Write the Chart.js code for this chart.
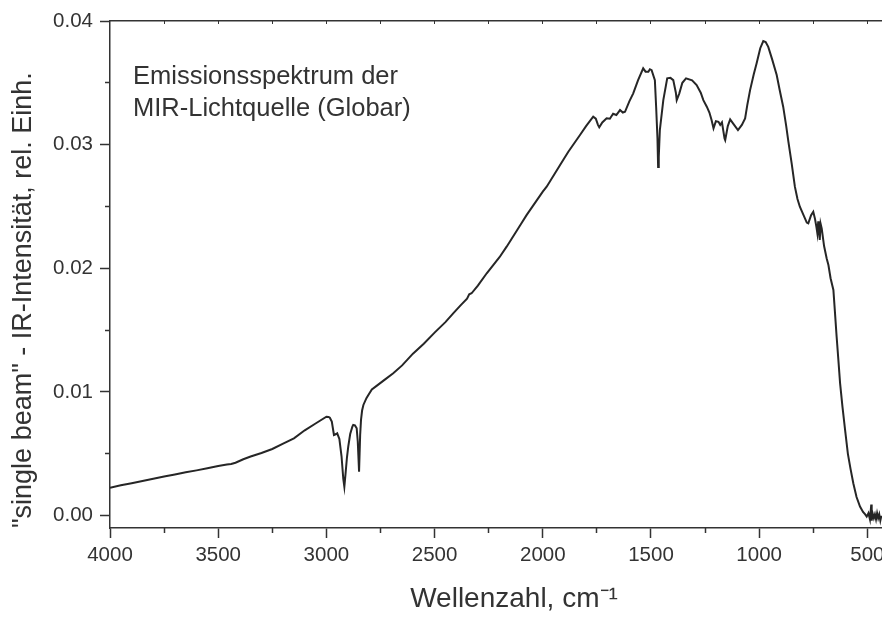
<!DOCTYPE html>
<html>
<head>
<meta charset="utf-8">
<script src="https://cdn.jsdelivr.net/npm/chart.js@4"></script>
<style>
  html, body { margin: 0; padding: 0; background: #fff; overflow: hidden; }
  /* the source figure is cut at the right edge, so the canvas runs a bit past the window */
  #wrap { width: 882px; height: 617px; overflow: hidden; }
</style>
</head>
<body>
<div id="wrap"><canvas id="chart" width="918" height="617"></canvas></div>
<script>
// Wellenzahl, cm-1
var wavenumbers = [
  4000, 3950, 3900, 3850, 3800, 3750, 3700, 3650, 3600, 3550,
  3500, 3460, 3440, 3420, 3384, 3350, 3300, 3250, 3200, 3150,
  3100, 3050, 3000, 2990, 2984, 2975, 2965, 2955, 2950, 2940,
  2930, 2922, 2917, 2912, 2905, 2899, 2890, 2880, 2876, 2868,
  2860, 2855, 2849, 2844, 2840, 2835, 2829, 2815, 2806, 2790,
  2768, 2730, 2691, 2650, 2600, 2550, 2500, 2450, 2414, 2380,
  2350, 2340, 2329, 2300, 2259, 2200, 2167, 2100, 2075, 2000,
  1982, 1920, 1882, 1828, 1800, 1767, 1755, 1745, 1739, 1725,
  1705, 1690, 1675, 1660, 1643, 1630, 1620, 1600, 1582, 1560,
  1536, 1525, 1512, 1505, 1497, 1482, 1476, 1470, 1467, 1464,
  1459, 1443, 1425, 1410, 1397, 1385, 1381, 1369, 1355, 1338,
  1310, 1289, 1270, 1258, 1242, 1230, 1220, 1211, 1200, 1188,
  1180, 1172, 1160, 1157, 1145, 1134, 1120, 1098, 1080, 1065,
  1055, 1042, 1025, 1012, 995, 981, 970, 958, 940, 919,
  905, 889, 875, 865, 850, 835, 823, 812, 795, 780,
  773, 760, 750, 742, 735, 731, 727, 725, 720, 716,
  711, 700, 688, 680, 670, 657, 650, 642, 634, 626,
  615, 603, 590, 578, 565, 550, 534, 520, 510, 503,
  495, 488, 482, 480, 476, 470, 465, 460, 455, 450,
  445, 440, 435
];

// "single beam" IR-Intensitaet, rel. Einh.
var intensity = [
  0.00225, 0.00245, 0.00262, 0.00280, 0.00298, 0.00316, 0.00333, 0.00350, 0.00366, 0.00383,
  0.00402, 0.00414, 0.00418, 0.00428, 0.00456, 0.00478, 0.00507, 0.00539, 0.00582, 0.00625,
  0.00690, 0.00745, 0.00800, 0.00798, 0.00792, 0.00760, 0.00652, 0.00660, 0.00666, 0.00620,
  0.00480, 0.00300, 0.00234, 0.00330, 0.00470, 0.00558, 0.00660, 0.00720, 0.00733, 0.00730,
  0.00707, 0.00600, 0.00356, 0.00650, 0.00774, 0.00850, 0.00895, 0.00950, 0.00976, 0.01020,
  0.01049, 0.01100, 0.01151, 0.01215, 0.01310, 0.01390, 0.01480, 0.01565, 0.01636, 0.01700,
  0.01755, 0.01790, 0.01798, 0.01860, 0.01960, 0.02090, 0.02175, 0.02360, 0.02430, 0.02620,
  0.02660, 0.02835, 0.02943, 0.03078, 0.03150, 0.03226, 0.03210, 0.03160, 0.03140, 0.03180,
  0.03213, 0.03210, 0.03250, 0.03240, 0.03280, 0.03260, 0.03266, 0.03350, 0.03415, 0.03520,
  0.03617, 0.03590, 0.03590, 0.03610, 0.03603, 0.03522, 0.03300, 0.03050, 0.02820, 0.02900,
  0.03118, 0.03360, 0.03536, 0.03540, 0.03522, 0.03420, 0.03360, 0.03415, 0.03500, 0.03536,
  0.03520, 0.03482, 0.03420, 0.03360, 0.03307, 0.03260, 0.03200, 0.03132, 0.03190, 0.03185,
  0.03160, 0.03180, 0.03050, 0.03037, 0.03150, 0.03204, 0.03170, 0.03118, 0.03160, 0.03213,
  0.03320, 0.03441, 0.03570, 0.03657, 0.03780, 0.03838, 0.03830, 0.03791, 0.03690, 0.03563,
  0.03440, 0.03307, 0.03150, 0.03024, 0.02850, 0.02660, 0.02560, 0.02498, 0.02430, 0.02370,
  0.02364, 0.02430, 0.02458, 0.02400, 0.02330, 0.02283, 0.02380, 0.02336, 0.02230, 0.02360,
  0.02323, 0.02180, 0.02080, 0.02027, 0.01920, 0.01825, 0.01650, 0.01447, 0.01260, 0.01070,
  0.00880, 0.00693, 0.00500, 0.00380, 0.00262, 0.00150, 0.00073, 0.00030, 0.00010, -0.00008,
  0.00020, -0.00030, 0.00090, -0.00040, 0.00020, -0.00020, 0.00010, -0.00030, 0.00020, -0.00020,
  0.00010, -0.00040, 0.00000
];

var xMajorTicks = [4000, 3500, 3000, 2500, 2000, 1500, 1000, 500];
var xMinorTicks = [3750, 3250, 2750, 2250, 1750, 1250, 750];
var xTopTicks = [3750, 3500, 3250, 3000, 2750, 2500, 2250, 2000, 1750, 1500, 1250, 1000, 750, 500];
var yMajorTicks = [0, 0.01, 0.02, 0.03, 0.04];
var yMinorTicks = [0.005, 0.015, 0.025, 0.035];

var noteLines = ["Emissionsspektrum der", "MIR-Lichtquelle (Globar)"];

var xMin = 266, xMax = 4000;
var yMin = -0.001, yMax = 0.04;
var inkColor = "#333333";
var fontFamily = '"Liberation Sans", Arial, sans-serif';

function setTicks(values) {
  return function(scale) {
    scale.ticks = values.map(function(v) { return { value: v }; });
  };
}

var points = wavenumbers.map(function(w, i) {
  return { x: w, y: intensity[i] };
});

var notePlugin = {
  id: "note",
  afterDraw: function(chart) {
    var ctx = chart.ctx;
    ctx.save();
    ctx.font = "25.5px " + fontFamily;
    ctx.fillStyle = inkColor;
    ctx.textBaseline = "alphabetic";
    ctx.fillText(noteLines[0], 133, 84);
    ctx.fillText(noteLines[1], 133, 116);
    ctx.restore();
  }
};

var ctx = document.getElementById("chart").getContext("2d");

var chart = new Chart(ctx, {
  type: "line",
  data: {
    datasets: [{
      data: points,
      borderColor: "#262626",
      borderWidth: 2,
      pointRadius: 0,
      tension: 0,
      fill: false
    }]
  },
  options: {
    responsive: false,
    animation: false,
    devicePixelRatio: 1,
    layout: { padding: { top: 21, right: 0, left: 0, bottom: 0 } },
    plugins: {
      legend: { display: false },
      tooltip: { enabled: false }
    },
    scales: {
      x: {
        type: "linear",
        position: "bottom",
        reverse: true,
        min: xMin,
        max: xMax,
        weight: 1,
        afterBuildTicks: setTicks(xMajorTicks),
        afterFit: function(scale) {
          scale.height = 89;
          scale.paddingLeft = 0;
          scale.paddingRight = 0;
        },
        grid: { drawOnChartArea: false, tickLength: 10, color: inkColor, tickWidth: 1.5 },
        border: { color: inkColor, width: 1.5 },
        ticks: {
          color: inkColor,
          padding: 5,
          maxRotation: 0,
          autoSkip: false,
          font: { family: fontFamily, size: 20.5 },
          callback: function(v) { return String(v); }
        },
        title: {
          display: true,
          text: "Wellenzahl, cm\u207B\u00B9",
          color: inkColor,
          font: { family: fontFamily, size: 28 },
          padding: { top: 0, bottom: 1 }
        }
      },
      xMinor: {
        type: "linear",
        position: "bottom",
        reverse: true,
        min: xMin,
        max: xMax,
        weight: 0,
        afterBuildTicks: setTicks(xMinorTicks),
        afterFit: function(scale) { scale.height = 0; },
        grid: { drawOnChartArea: false, tickLength: 5, color: inkColor, tickWidth: 1.5 },
        border: { display: false },
        ticks: { display: false }
      },
      xTop: {
        type: "linear",
        position: "top",
        reverse: true,
        min: xMin,
        max: xMax,
        afterBuildTicks: setTicks(xTopTicks),
        afterFit: function(scale) { scale.height = 0; },
        grid: { drawOnChartArea: false, tickLength: -3, color: inkColor, tickWidth: 1 },
        border: { color: inkColor, width: 1.5 },
        ticks: { display: false }
      },
      y: {
        type: "linear",
        position: "left",
        min: yMin,
        max: yMax,
        weight: 1,
        afterBuildTicks: setTicks(yMajorTicks),
        afterFit: function(scale) { scale.width = 110; },
        grid: { drawOnChartArea: false, tickLength: 10, color: inkColor, tickWidth: 1.5 },
        border: { color: inkColor, width: 1.5 },
        ticks: {
          color: inkColor,
          padding: 7,
          autoSkip: false,
          font: { family: fontFamily, size: 20.5 },
          callback: function(v) { return Number(v).toFixed(2); }
        },
        title: {
          display: true,
          text: "\"single beam\" - IR-Intensit\u00E4t, rel. Einh.",
          align: "start",
          color: inkColor,
          font: { family: fontFamily, size: 27 },
          padding: { top: 7, bottom: 0 }
        }
      },
      yMinor: {
        type: "linear",
        position: "left",
        min: yMin,
        max: yMax,
        weight: 0,
        afterBuildTicks: setTicks(yMinorTicks),
        afterFit: function(scale) { scale.width = 0; },
        grid: { drawOnChartArea: false, tickLength: 5, color: inkColor, tickWidth: 1.5 },
        border: { display: false },
        ticks: { display: false }
      }
    }
  },
  plugins: [notePlugin]
});
</script>
</body>
</html>
